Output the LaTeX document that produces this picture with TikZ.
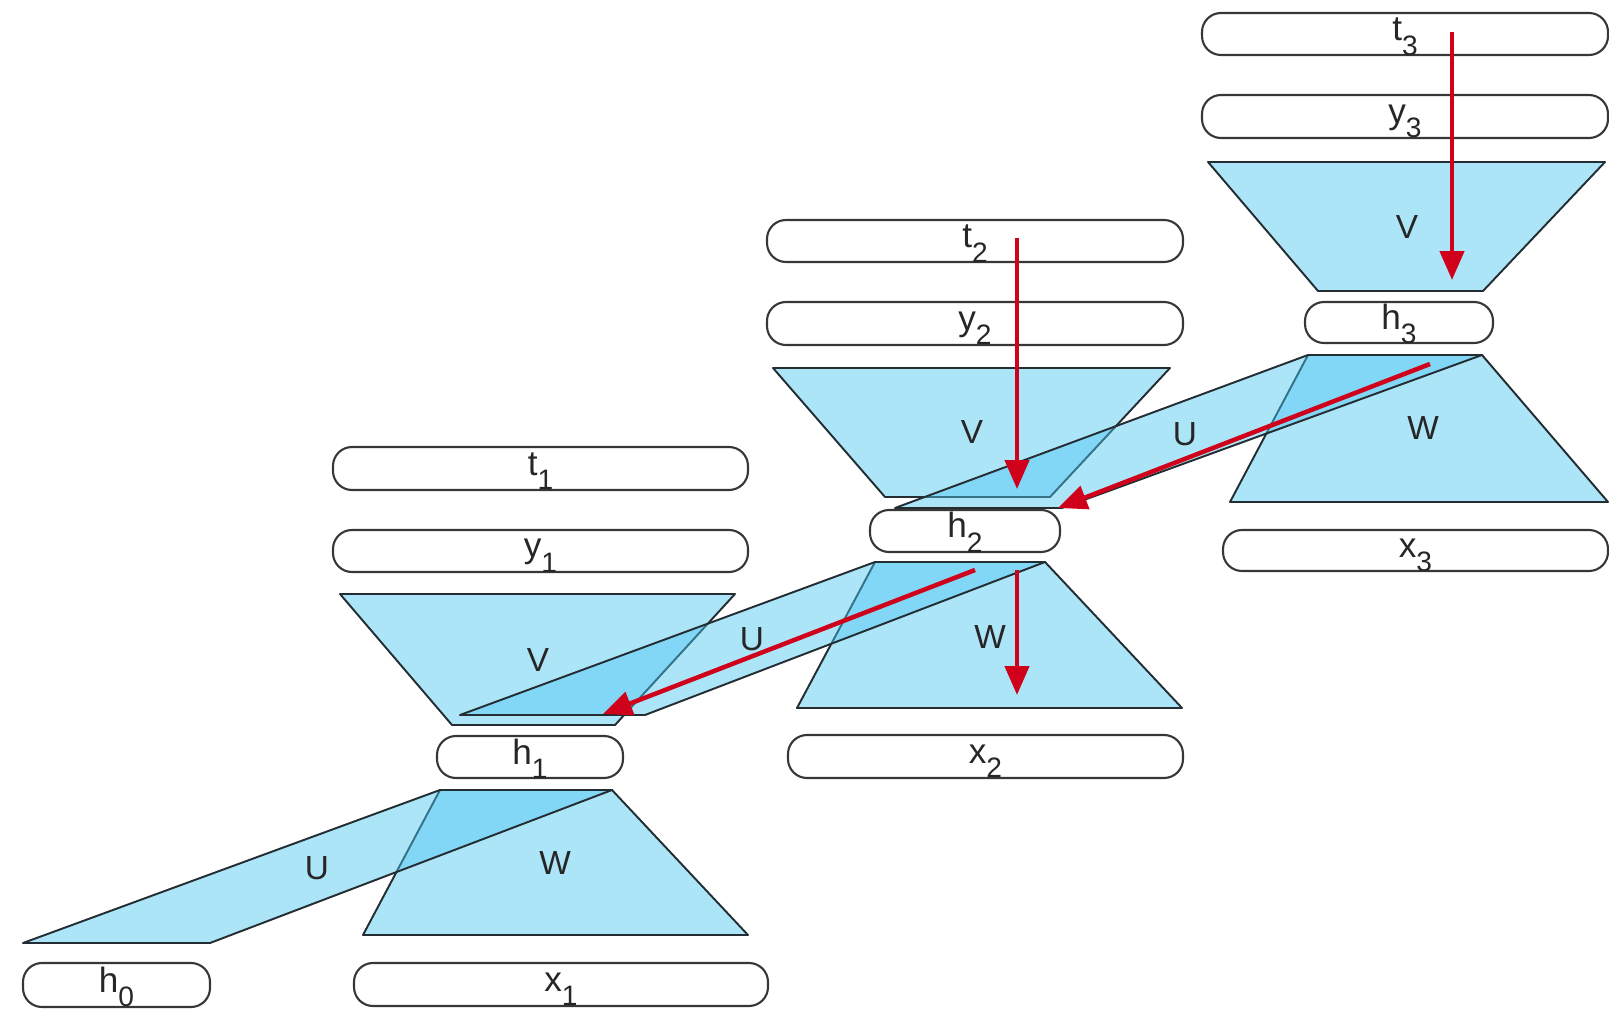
\documentclass[tikz,border=0pt]{standalone}
\usepackage{fontspec}
\setmainfont{Liberation Sans}
\usetikzlibrary{arrows.meta,fit}
\definecolor{fillb}{RGB}{74,198,240}
\definecolor{edgec}{RGB}{35,45,50}
\definecolor{arrc}{RGB}{208,2,27}
\definecolor{boxc}{RGB}{55,55,55}
\newcommand\sbx[1]{\raisebox{-8pt}{\fontsize{16pt}{16pt}\selectfont #1}}
\tikzset{
  box/.style={draw=boxc, line width=1.2pt, rounded corners=0.38cm, inner sep=0pt, fill=white},
  blbl/.style={anchor=base, inner sep=0pt, font=\fontsize{20pt}{20pt}\selectfont, text=black!85, yshift=-0.14cm},
  tlbl/.style={inner sep=0pt, font=\fontsize{19pt}{19pt}\selectfont, text=black!85},
  trap/.style={draw=edgec, line width=1.1pt, fill=fillb, fill opacity=0.45, line join=round},
  redarr/.style={draw=arrc, line width=0.09cm, -{Triangle[length=0.58cm,width=0.48cm]}}
}
\begin{document}
\begin{tikzpicture}[x=0.02cm,y=-0.02cm]
\useasboundingbox (0,0) rectangle (1609,1023);
% ---------- boxes ----------
\node[box, fit={(1202,13) (1608,55)}] (t3) {};
\node[box, fit={(1202,95) (1608,138)}] (y3) {};
\node[box, fit={(1305,302) (1493,343)}] (h3) {};
\node[box, fit={(1223,530) (1608,571)}] (x3) {};
\node[box, fit={(767,220) (1183,262)}] (t2) {};
\node[box, fit={(767,302) (1183,345)}] (y2) {};
\node[box, fit={(870,510) (1060,552)}] (h2) {};
\node[box, fit={(788,735) (1183,778)}] (x2) {};
\node[box, fit={(333,447) (748,490)}] (t1) {};
\node[box, fit={(333,530) (748,572)}] (y1) {};
\node[box, fit={(437,736) (623,778)}] (h1) {};
\node[box, fit={(354,963) (768,1006)}] (x1) {};
\node[box, fit={(23,963) (210,1007)}] (h0) {};
% ---------- box labels ----------
\node[blbl] (t3l) at (t3.center) {t\sbx{3}};
\node[blbl] (y3l) at (y3.center) {y\sbx{3}};
\node[blbl] (h3l) at (h3.center) {h\sbx{3}};
\node[blbl] (x3l) at (x3.center) {x\sbx{3}};
\node[blbl] (t2l) at (t2.center) {t\sbx{2}};
\node[blbl] (y2l) at (y2.center) {y\sbx{2}};
\node[blbl] (h2l) at (h2.center) {h\sbx{2}};
\node[blbl] (x2l) at (x2.center) {x\sbx{2}};
\node[blbl] (t1l) at (t1.center) {t\sbx{1}};
\node[blbl] (y1l) at (y1.center) {y\sbx{1}};
\node[blbl] (h1l) at (h1.center) {h\sbx{1}};
\node[blbl] (x1l) at (x1.center) {x\sbx{1}};
\node[blbl] (h0l) at (h0.center) {h\sbx{0}};
% ---------- V and W trapezoids ----------
\draw[trap] (1208,162) -- (1605,162) -- (1483,291) -- (1318,291) -- cycle;
\draw[trap] (773,368) -- (1170,368) -- (1050,497) -- (885,497) -- cycle;
\draw[trap] (340,594) -- (735,594) -- (615,725) -- (452,725) -- cycle;
\draw[trap] (1308,355) -- (1482,355) -- (1608,502) -- (1230,502) -- cycle;
\draw[trap] (875,562) -- (1045,562) -- (1182,708) -- (797,708) -- cycle;
\draw[trap] (440,790) -- (612,790) -- (748,935) -- (363,935) -- cycle;
% ---------- U parallelograms ----------
\draw[trap] (895,508) -- (1062,508) -- (1482,355) -- (1308,355) -- cycle;
\draw[trap] (460,715) -- (645,715) -- (1045,562) -- (875,562) -- cycle;
\draw[trap] (23,943) -- (210,943) -- (612,790) -- (440,790) -- cycle;
% ---------- trapezoid labels ----------
\node[tlbl] (v3) at (1407,227) {V};
\node[tlbl] (v2) at (972,432) {V};
\node[tlbl] (v1) at (538,660) {V};
\node[tlbl] (w3) at (1423,428) {W};
\node[tlbl] (w2) at (990,637) {W};
\node[tlbl] (w1) at (555,863) {W};
\node[tlbl] (u3) at (1185,434) {U};
\node[tlbl] (u2) at (752,639) {U};
\node[tlbl] (u1) at (317,868) {U};
% ---------- red arrows ----------
\coordinate (a3s) at (1452,32);
\coordinate (a3e) at (1452,280);
\coordinate (a2s) at (1017,238);
\coordinate (a2e) at (1017,489);
\coordinate (aws) at (1017,570);
\coordinate (awe) at (1017,695);
\coordinate (u3s) at (1430,364);
\coordinate (u3e) at (1058,508);
\coordinate (u2s) at (975,570);
\coordinate (u2e) at (603,714);
\draw[redarr] (a3s) -- (a3e);
\draw[redarr] (a2s) -- (a2e);
\draw[redarr] (aws) -- (awe);
\draw[redarr] (u3s) -- (u3e);
\draw[redarr] (u2s) -- (u2e);
\end{tikzpicture}
\end{document}
